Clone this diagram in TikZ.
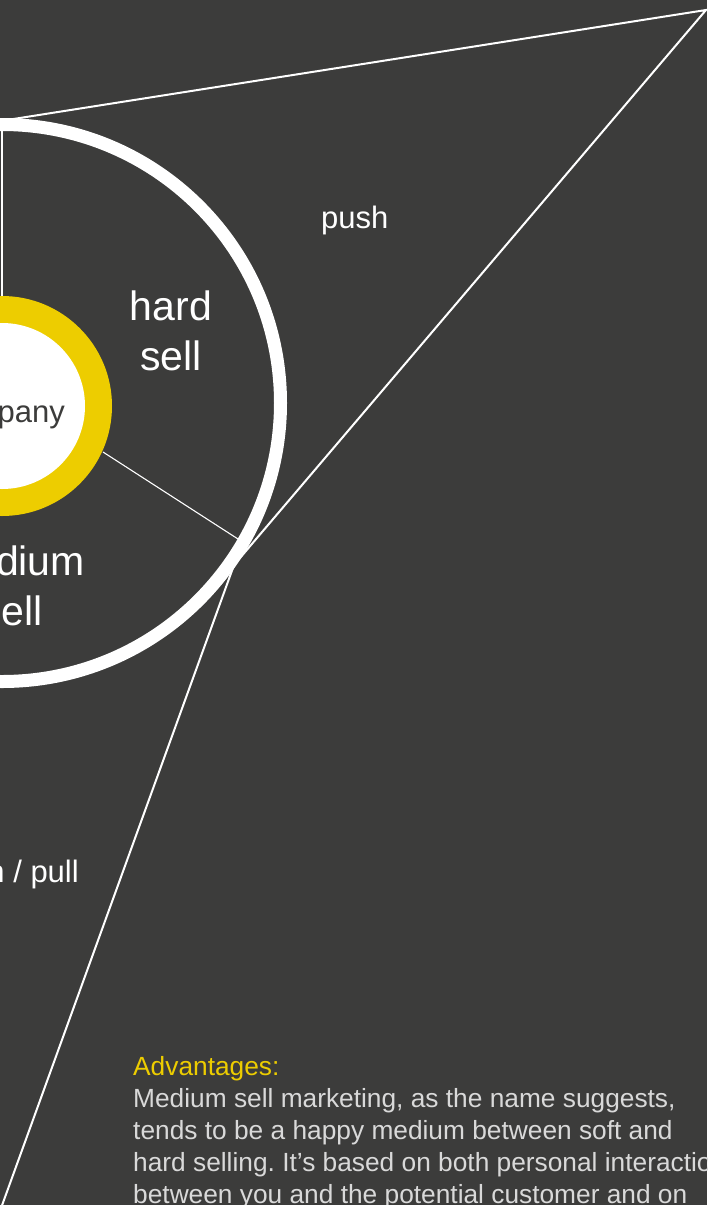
\documentclass[tikz,border=0pt]{standalone}
\usepackage{fontspec}
\setmainfont{Liberation Sans}
\frenchspacing
\begin{document}
\begin{tikzpicture}[x=1pt,y=-1pt]
	%---------------- Colors & styles ----------------
	\definecolor{slate}{RGB}{60,60,59}  % background
	\definecolor{gold}{RGB}{237,205,0}  % inner ring and heading
	\definecolor{fog}{RGB}{217,217,217} % body text
	\tikzset{
		ring/.style={white, line width=13pt},                 % outer white ring
		spoke/.style={white, line width=1.1pt},               % thin dividers
		wedge/.style={white, line width=2pt, line join=miter}, % open triangle
		big/.style={white, inner sep=0pt, align=center, font=\fontsize{41}{50}\selectfont},
		small/.style={white, inner sep=0pt, font=\fontsize{31}{36}\selectfont},
	}
	
	%---------------- Centres & radii ----------------
	\def\cx{2}
	\def\cy{403}   % outer ring
	\def\ky{406}   % inner disc
	\def\ro{278.5} % outer ring (mid line)
	\def\rg{110}   % gold disc
	\def\rw{83}    % white core
	
	%---------------- Canvas ----------------
	\useasboundingbox (0,0) rectangle (707,1205);
	\clip (0,0) rectangle (707,1205);
	\fill[slate] (0,0) rectangle (707,1205);
	
	%---------------- Triangle ----------------
	\coordinate (apex) at (706,10);
	\coordinate (tip)  at (-12,123);
	\coordinate (kink) at (234,565);
	\coordinate (foot) at (-4,1222);
	\draw[wedge] (tip) -- (apex) -- (kink) -- (foot);
	
	%---------------- Dividers ----------------
	\coordinate (top out) at (\cx,131);
	\coordinate (top in)  at (\cx,297);
	\coordinate (side in)  at (103,452);
	\coordinate (side out) at (238,539);
	\draw[spoke] (top in) -- (top out);
	\draw[spoke] (side in) -- (side out);
	
	%---------------- Rings ----------------
	\draw[ring] (\cx,\cy) circle (\ro);
	\fill[gold]  (\cx,\ky) circle (\rg);
	\fill[white] (\cx,\ky) circle (\rw);
	
	%---------------- Labels ----------------
	% multi-line nodes sit on the baseline of their last line
	\node[small, slate, anchor=base] (company) at (\cx,422) {company};
	\node[big, anchor=base] (hard) at (171,370) {hard\\sell};
	\node[big, anchor=base] (medium) at (12,625) {medium\\sell};
	\node[small, anchor=base west] (push) at (321,228) {push};
	\node[small, anchor=base east] (pushpull) at (79,882) {push / pull};
	
	%---------------- Notes ----------------
	\node[anchor=base west, inner sep=0pt, align=left, text=fog,
	      font=\fontsize{26.3}{32}\selectfont] (advantages) at (133,1203)
	  {\textcolor{gold}{Advantages:}\\
	   Medium sell marketing, as the name suggests,\\
	   tends to be a happy medium between soft and\\
	   hard selling. It’s based on both personal interaction\\
	   between you and the potential customer and on};
\end{tikzpicture}
\end{document}
